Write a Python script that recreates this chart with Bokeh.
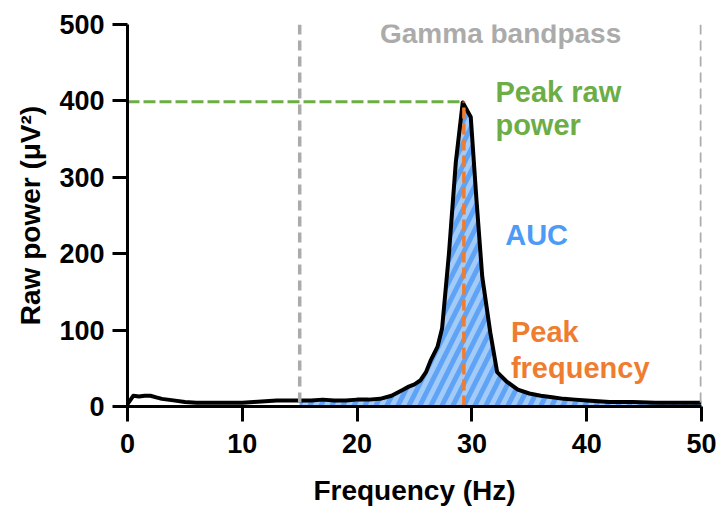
from bokeh.plotting import figure
from bokeh.models import Range1d, FixedTicker, Label, Span, ColumnDataSource
from bokeh.embed import file_html
from bokeh.resources import INLINE

# Power spectrum (Hz vs µV²)
freq = [0, 0.5, 1.0, 1.5, 2.0, 2.5, 3.0, 4.0, 5.0, 6.0, 7.0, 8.0, 9.0, 10.0,
        11.0, 12.0, 13.0, 14.0, 15.0, 16.0, 17.0, 18.0, 19.0, 20.0, 21.0, 22.0,
        23.0, 23.5, 24.0, 24.5, 25.0, 25.5, 26.0, 26.4, 27.0, 27.4, 28.0, 28.6,
        29.2, 29.9, 30.4, 30.9, 31.6, 32.2, 33.0, 34.0, 35.0, 36.0, 37.0, 38.0,
        39.0, 40.0, 41.0, 42.0, 44.0, 46.0, 48.0, 50.0]
power = [3, 14, 13, 14, 14, 12, 10, 8, 6, 5, 5, 5, 5, 5,
         6, 7, 8, 8, 8, 8, 9, 8, 8, 9, 9, 10,
         14, 18, 22, 26, 29, 34, 45, 60, 78, 102, 200, 320,
         398, 379, 270, 170, 97, 45, 33, 22, 17, 14, 12, 10,
         9, 8, 7, 6, 6, 5, 5, 5]

band_low, band_high = 15, 50
peak_freq = 29.3
peak_power = 399

x_ticks = [0, 10, 20, 30, 40, 50]
y_ticks = [0, 100, 200, 300, 400, 500]

FONT = "Liberation Sans"
GREEN = "#6DAD46"
ORANGE = "#EE7D30"
BLUE = "#4C9CF6"
GRAY = "#ABABAB"

p = figure(width=720, height=511, output_backend="svg", toolbar_location=None,
           x_range=Range1d(0, 50), y_range=Range1d(0, 500),
           min_border_left=127, min_border_right=19,
           min_border_top=24, min_border_bottom=105)
p.outline_line_color = None
p.xgrid.visible = False
p.ygrid.visible = False
p.background_fill_color = "white"
p.border_fill_color = "white"

# area under the curve inside the gamma band
band_x = [f for f in freq if band_low <= f <= band_high]
band_y = [pw for f, pw in zip(freq, power) if band_low <= f <= band_high]
p.varea(x=band_x, y1=0, y2=band_y, fill_color="#A3CBF8",
        hatch_pattern="/", hatch_color="#5EA3F6", hatch_weight=5, hatch_scale=22)

# band edges
for loc in (band_low, band_high):
    p.add_layout(Span(location=loc, dimension="height", line_color=GRAY,
                      line_width=3.5, line_dash="10 6"))

# spectrum trace
src = ColumnDataSource(dict(f=freq, pw=power))
p.line("f", "pw", source=src, line_color="black", line_width=4, line_join="round")

# peak markers
p.line([peak_freq, peak_freq], [0, peak_power], line_color=ORANGE, line_width=3.5,
       line_dash="11 5")
p.line([0, peak_freq], [peak_power, peak_power], line_color=GREEN, line_width=3,
       line_dash="12 4")

# axes
for ax in (p.xaxis, p.yaxis):
    ax.axis_line_width = 3
    ax.major_tick_line_width = 3
    ax.major_tick_out = 15
    ax.major_tick_in = 0
    ax.minor_tick_line_color = None
    ax.major_label_text_font = FONT
    ax.major_label_text_font_style = "bold"
    ax.major_label_text_font_size = "27px"
    ax.major_label_text_color = "black"
    ax.axis_label_text_font = FONT
    ax.axis_label_text_font_style = "bold"
    ax.axis_label_text_font_size = "28px"
    ax.axis_label_text_color = "black"

p.xaxis.ticker = FixedTicker(ticks=x_ticks)
p.yaxis.ticker = FixedTicker(ticks=y_ticks)
p.xaxis.axis_label = "Frequency (Hz)"
p.yaxis.axis_label = "Raw power (μV²)"
p.xaxis.major_label_standoff = 12
p.yaxis.major_label_standoff = 8
p.xaxis.axis_label_standoff = 19
p.yaxis.axis_label_standoff = 10


def note(text, x, y, color, size="29px", align="left"):
    p.add_layout(Label(x=x, y=y, text=text, text_color=color, text_font=FONT,
                       text_font_style="bold", text_font_size=size,
                       text_align=align, text_baseline="alphabetic"))


note("Gamma bandpass", (band_low + band_high) / 2, 488, GRAY, size="28px", align="center")
note("Peak raw", 32.05, 411, GREEN)
note("power", 32.05, 368, GREEN)
note("AUC", 32.9, 224, BLUE)
note("Peak", 33.4, 97, ORANGE)
note("frequency", 33.4, 51, ORANGE)

open("out.html", "w").write(file_html(p, INLINE))
